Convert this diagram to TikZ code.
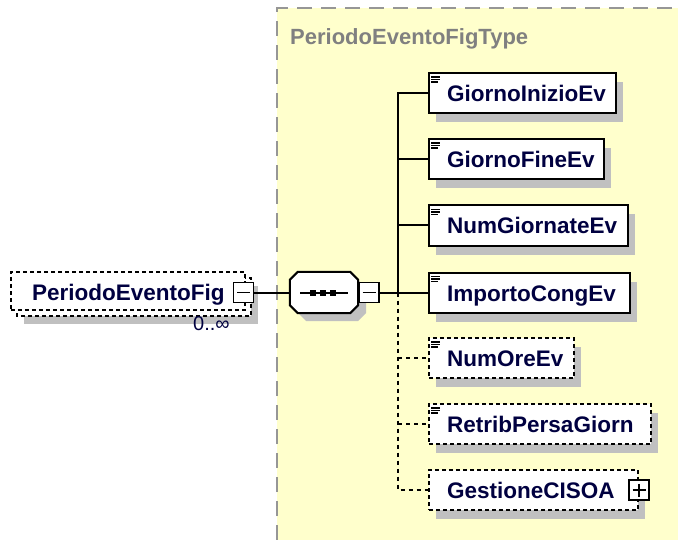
\documentclass[tikz,border=0pt]{standalone}
\usepackage{fontspec}
\setmainfont{Liberation Sans}
\usetikzlibrary{calc}
\definecolor{bgyellow}{RGB}{255,255,204}
\definecolor{shadowgray}{RGB}{192,192,192}
\definecolor{txt}{RGB}{0,0,64}
\definecolor{borderg}{RGB}{150,150,150}
\definecolor{titleg}{RGB}{128,128,128}
\tikzset{
  elbox/.style={draw=black, line width=2bp, fill=white, minimum height=40bp, inner sep=0pt, anchor=west},
  optbox/.style={elbox, dash pattern=on 4bp off 3bp},
  eltext/.style={font=\bfseries\fontsize{22.5bp}{26bp}\selectfont, text=txt, anchor=base west, inner sep=0pt},
  conn/.style={line width=2bp},
  optconn/.style={conn, dash pattern=on 4bp off 4bp},
  pmbox/.style={draw=black, line width=1.8bp, fill=white, minimum width=20bp, minimum height=20bp, inner sep=0pt},
}
\newcommand\myelem[5]{%
  \fill[shadowgray] (436,{#2-11}) rectangle ({428+#3+8},{#2+29});
  \node[#4, minimum width=#3bp] (#1) at (428,#2) {};
  \draw[line width=1.4bp] (431,{#2-16}) -- (440,{#2-16}) (431,{#2-13.5}) -- (440,{#2-13.5}) (431,{#2-11}) -- (438,{#2-11});
  \node[eltext] (#1t) at (447,{#2+8.5}) {#5};
}
\begin{document}
\begin{tikzpicture}[x=1bp,y=-1bp]
\useasboundingbox (0,0) rectangle (678,540);
% type area
\fill[bgyellow] (277,8) rectangle (678,540);
\draw[borderg, line width=1.8bp, dash pattern=on 15bp off 9bp] (277,540) -- (277,8) -- (678,8);
\node[font=\bfseries\fontsize{22bp}{26bp}\selectfont, text=titleg, anchor=base west, inner sep=0pt] (title) at (290,45) {PeriodoEventoFigType};

% left element (stacked, optional)
\fill[shadowgray] (24,286) rectangle (258,324);
\draw[line width=1.8bp, fill=white, dash pattern=on 4bp off 3bp] (17,278) rectangle (251,316);
\node[draw=black, line width=1.8bp, fill=white, dash pattern=on 4bp off 3bp, minimum width=234bp, minimum height=38bp, inner sep=0pt] (pef) at (128,291) {};
\node[eltext] (peft) at (32,300.5) {PeriodoEventoFig};
\node[pmbox] (pefminus) at (243.5,292.5) {};
\draw[line width=1.6bp] ($(pefminus.center)+(-6.5,0)$) -- ($(pefminus.center)+(6.5,0)$);
\node[font=\fontsize{20bp}{24bp}\selectfont, text=txt, anchor=base west, inner sep=0pt] (mult) at (193,330) {0..∞};

% sequence compositor
\node[minimum width=68bp, minimum height=41bp, inner sep=0pt] (seq) at (324,292.5) {};
\fill[shadowgray] (306,280) -- (358,280) -- (366,288) -- (366,313) -- (358,321) -- (306,321) -- (298,313) -- (298,288) -- cycle;
\draw[line width=2bp, fill=white]
  ($(seq.north west)+(8,0)$) -- ($(seq.north east)+(-8,0)$) -- ($(seq.north east)+(0,8)$) --
  ($(seq.south east)+(0,-8)$) -- ($(seq.south east)+(-8,0)$) -- ($(seq.south west)+(8,0)$) --
  ($(seq.south west)+(0,-8)$) -- ($(seq.north west)+(0,8)$) -- cycle;
\draw[line width=2bp] (300,292.5) -- (348,292.5);
\fill (310,289.5) rectangle ++(6,6);
\fill (320,289.5) rectangle ++(6,6);
\fill (330,289.5) rectangle ++(6,6);
\node[pmbox, anchor=west] (seqminus) at (seq.east) {};
\draw[line width=1.6bp] ($(seqminus.center)+(-6.5,0)$) -- ($(seqminus.center)+(6.5,0)$);

% children
\myelem{c1}{93}{187}{elbox}{GiornoInizioEv}
\myelem{c2}{159}{175}{elbox}{GiornoFineEv}
\myelem{c3}{225.5}{199}{elbox}{NumGiornateEv}
\myelem{c4}{292.5}{201}{elbox}{ImportoCongEv}
\myelem{c5}{358}{145}{optbox}{NumOreEv}
\myelem{c6}{424}{222}{optbox}{RetribPersaGiorn}
% GestioneCISOA (no icon, with plus)
\fill[shadowgray] (436,{490-11}) rectangle ({428+209+8},{490+29});
\node[optbox, minimum width=209bp] (c7) at (428,490) {};
\node[eltext] (c7t) at (447,498.5) {GestioneCISOA};
\node[pmbox] (c7plus) at (c7.east) {};
\draw[line width=1.6bp] ($(c7plus.center)+(-6.5,0)$) -- ($(c7plus.center)+(6.5,0)$)
  ($(c7plus.center)+(0,-6.5)$) -- ($(c7plus.center)+(0,6.5)$);

% connectors
\coordinate (sp) at (398,292.5);
\draw[conn] (pefminus.east) -- (seq.west);
\draw[conn] (seqminus.east) -- (sp);
\draw[conn] (c1.west) -| (sp);
\draw[conn] (c2.west) -- (c2.west -| sp);
\draw[conn] (c3.west) -- (c3.west -| sp);
\draw[conn] (sp) -- (c4.west);
\draw[optconn] (sp) |- (c7.west);
\draw[optconn] (c5.west -| sp) -- (c5.west);
\draw[optconn] (c6.west -| sp) -- (c6.west);
\end{tikzpicture}
\end{document}
